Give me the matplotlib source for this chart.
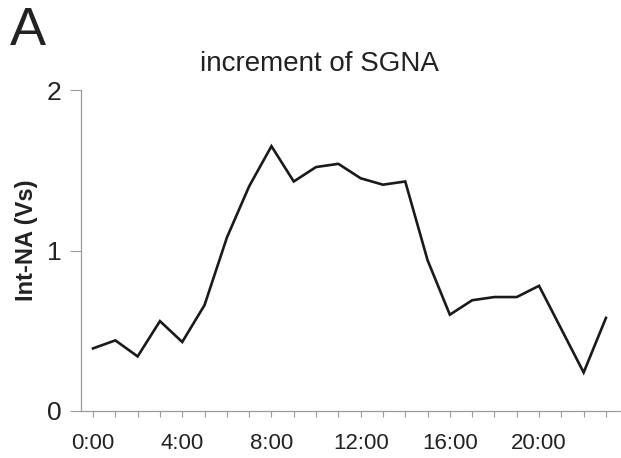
import matplotlib
matplotlib.use("Agg")
import matplotlib.pyplot as plt
from matplotlib.ticker import MultipleLocator

hours = list(range(24))
values = [0.39, 0.44, 0.34, 0.56, 0.43, 0.66, 1.08, 1.40, 1.65, 1.43, 1.52, 1.54,
          1.45, 1.41, 1.43, 0.94, 0.60, 0.69, 0.71, 0.71, 0.78, 0.51, 0.24, 0.58]
xtick_pos = [0, 4, 8, 12, 16, 20]
xtick_labels = ["0:00", "4:00", "8:00", "12:00", "16:00", "20:00"]
ytick_pos = [0, 1, 2]
ytick_labels = ["0", "1", "2"]

plt.rcParams['font.family'] = ['Liberation Sans', 'DejaVu Sans']

W, H = 621, 458
fig = plt.figure(figsize=(W / 100, H / 100), dpi=100)
ax = fig.add_axes([81 / W, (H - 411) / H, 539 / W, 321 / H])

ax.plot(hours, values, color='#1a1a1a', linewidth=1.9, solid_joinstyle='miter')

ax.set_xlim(-0.54, 23.63)
ax.set_ylim(0, 2)

for s in ['top', 'right']:
    ax.spines[s].set_visible(False)
for s in ['left', 'bottom']:
    ax.spines[s].set_color('#9a9a9a')
    ax.spines[s].set_linestyle((0, (1, 1)))
    ax.spines[s].set_linewidth(0.9)

ax.set_xticks(xtick_pos)
ax.set_xticklabels(xtick_labels, fontsize=16)
ax.xaxis.set_minor_locator(MultipleLocator(1))
ax.set_yticks(ytick_pos)
ax.set_yticklabels(ytick_labels, fontsize=19)

ax.tick_params(axis='x', which='both', direction='out', length=4, width=0.8,
               color='#9a9a9a', pad=12, labelcolor='#222222')
ax.tick_params(axis='y', which='major', direction='out', length=8, width=0.8,
               color='#9a9a9a', pad=6, labelcolor='#222222')

ax.set_ylabel("Int-NA (Vs)", fontsize=17, fontweight='bold', color='#222222')
ax.yaxis.set_label_coords(38 / W, (H - 240) / H, transform=fig.transFigure)

fig.text(319 / W, (H - 64) / H, "increment of SGNA", fontsize=20, color='#222222',
         ha='center', va='center')
fig.text(10 / W, (H - 31) / H, "A", fontsize=39, color='#222222', ha='left', va='center')

fig.savefig("out.png", dpi=100, facecolor='white')
